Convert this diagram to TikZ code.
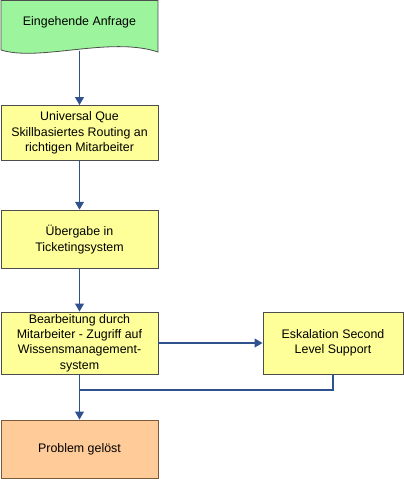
\documentclass[tikz,border=0pt]{standalone}
\usepackage{fontspec}
\setmainfont{Liberation Sans}
\definecolor{FlowGreen}{HTML}{9CF59C}
\definecolor{FlowYellow}{HTML}{FFFF99}
\definecolor{FlowOrange}{HTML}{FFCC99}
\definecolor{FlowBorder}{HTML}{4D4D4D}
\definecolor{FlowBrown}{HTML}{7A5A3A}
\definecolor{FlowBlue}{HTML}{2F528F}
\usetikzlibrary{positioning,arrows.meta}

\begin{document}
\begin{tikzpicture}[x=0.75pt,y=-0.75pt,
    every node/.style={font=\fontsize{9.3}{11.6}\selectfont},
    stepbox/.style={draw=FlowBorder,fill=FlowYellow,line width=0.6pt,align=center,
        minimum width=117.75pt,inner sep=0pt},
    flow/.style={draw=FlowBlue,line width=1.3pt},
    flowarrow/.style={flow,-{Triangle[length=6pt,width=6.5pt]}}]
        \useasboundingbox (0,0) rectangle (404,480);

        % Eingehende Anfrage
        \draw[draw=FlowBorder,fill=FlowGreen,line width=0.6pt] (1,0.5) -- (158,0.5) -- (158,52)
            .. controls (110,36) and (40,62) .. (1,50) -- cycle;
        \node (anfrage) at (79.5,22) {Eingehende Anfrage};
        \coordinate (anfrage-out) at (79.5,51);

        \node[stepbox,minimum height=41.25pt] (que) at (79.5,133)
            {Universal Que\\Skillbasiertes Routing an\\richtigen Mitarbeiter};
        \node[stepbox,minimum height=44pt] (ticket) at (79.5,239.5)
            {Übergabe in\\Ticketingsystem};
        \node[stepbox,minimum height=46.5pt] (bearb) at (79.5,343)
            {Bearbeitung durch\\Mitarbeiter - Zugriff auf\\Wissensmanagement-\\system};
        \node[stepbox,minimum width=105pt,minimum height=46.5pt] (eskal) at (333,343)
            {Eskalation Second\\Level Support};
        \node[stepbox,draw=FlowBrown,fill=FlowOrange,minimum height=43.5pt] (geloest) at (79.5,449)
            {Problem gelöst};
        \coordinate (join) at (79.5,390);

        % connectors
        \draw[flowarrow] (anfrage-out) -- (que.north);
        \draw[flowarrow] (que.south) -- (ticket.north);
        \draw[flowarrow] (ticket.south) -- (bearb.north);
        \draw[flowarrow] (bearb.east) -- (eskal.west);
        \draw[flowarrow] (bearb.south) -- (geloest.north);
        \draw[flow] (eskal.south) |- (join);
    \end{tikzpicture}
\end{document}
